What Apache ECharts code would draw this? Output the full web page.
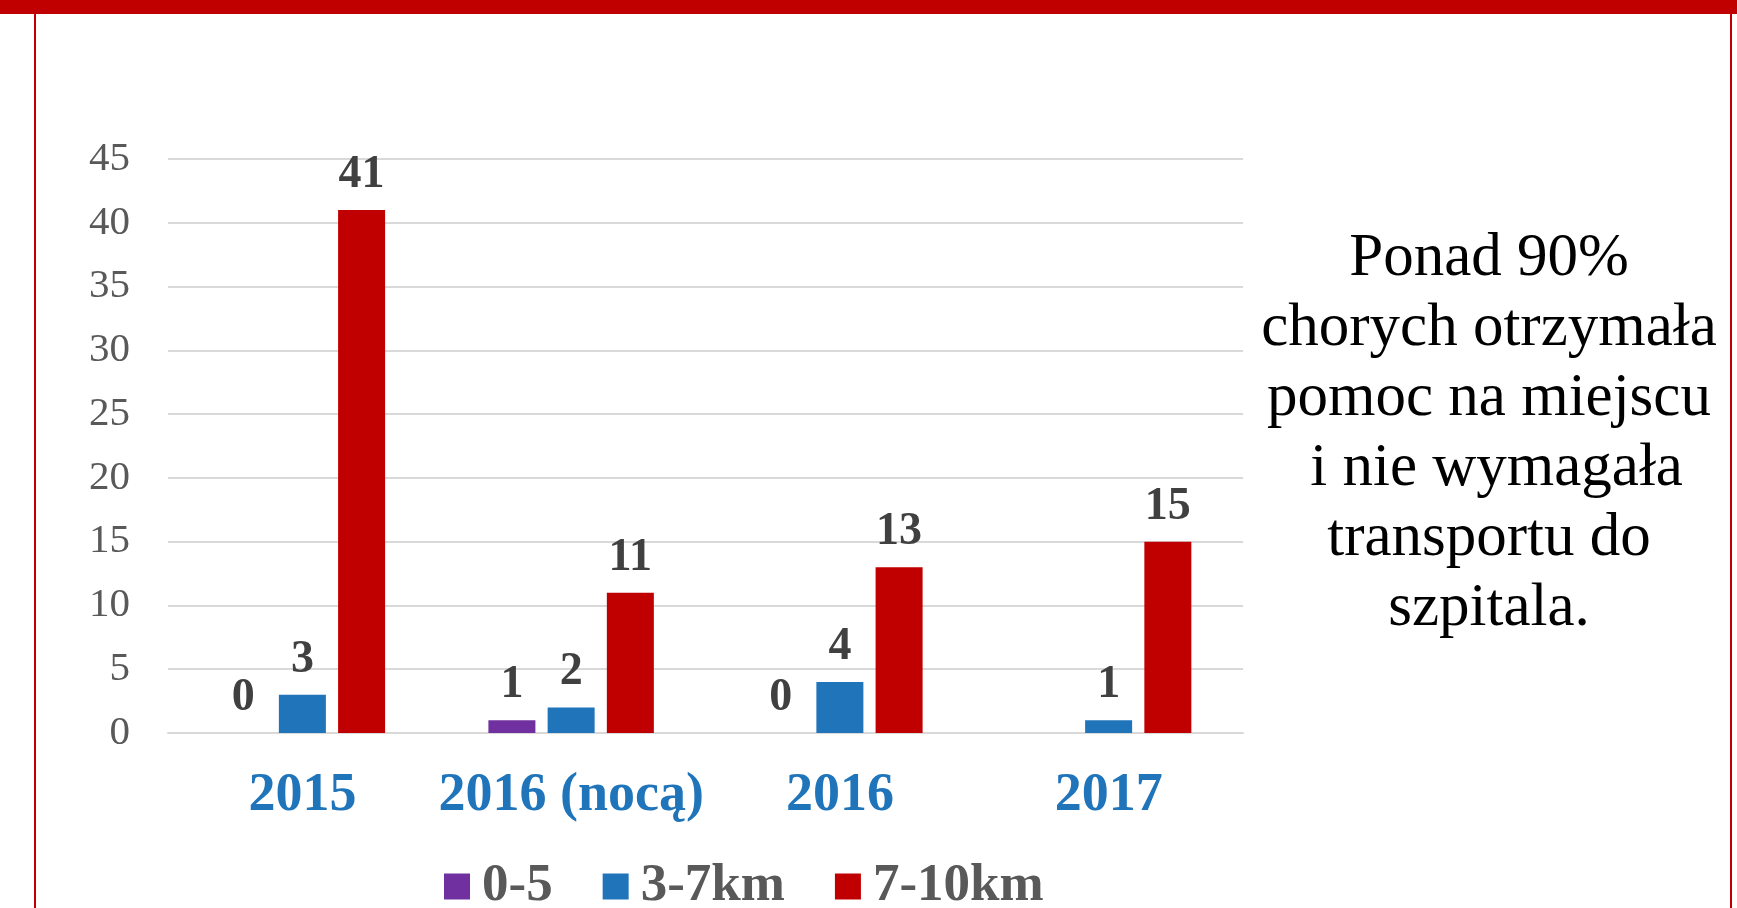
<!DOCTYPE html>
<html>
<head>
    <meta charset="utf-8">
    <title>ECharts</title>
    <script src="https://cdn.jsdelivr.net/npm/echarts@6/dist/echarts.min.js"></script>
    <style>
        html, body { margin: 0; padding: 0; background: #fff; }
    </style>
</head>
<body>
    <div id="main" style="width: 1737px;height:908px;"></div>
    <script type="text/javascript">
var years = ['2015', '2016 (nocą)', '2016', '2017'];
var seriesNames = ['0-5', '3-7km', '7-10km'];
var km0to5 = [0, 1, 0, null];
var km3to7 = [3, 2, 4, 1];
var km7to10 = [41, 11, 13, 15];
var yTicks = [0, 45, 5]; // min, max, interval
var noteLines = ['Ponad 90%', 'chorych otrzymała', 'pomoc na miejscu', ' i nie wymagała', 'transportu do', 'szpitala.'];

var colors = ['#7030A0', '#1F74BA', '#C00000'];
var serif = '"Liberation Serif", "DejaVu Serif", serif';

var myChart = echarts.init(document.getElementById('main'));

function barSeries(name, data, color) {
    return {
        name: name,
        type: 'bar',
        data: data,
        barWidth: 47,
        barGap: '26%',
        itemStyle: { color: color },
        label: {
            show: true,
            position: 'top',
            distance: 12,
            color: '#404040',
            fontFamily: serif,
            fontWeight: 'bold',
            fontSize: 46
        }
    };
}

var option = {
    backgroundColor: '#fff',
    animation: false,
    grid: { left: 168, right: 494, top: 159, bottom: 175 },
    legend: {
        data: seriesNames,
        left: 439,
        top: 855,
        icon: 'rect',
        itemWidth: 26,
        itemHeight: 26,
        itemGap: 50,
        textStyle: {
            color: '#595959',
            fontFamily: serif,
            fontWeight: 'bold',
            fontSize: 53,
            padding: [0, 0, 0, 7]
        }
    },
    xAxis: {
        type: 'category',
        data: years,
        axisTick: { show: false },
        axisLine: { lineStyle: { color: '#D9D9D9', width: 2 } },
        axisLabel: {
            interval: 0,
            margin: 36,
            color: '#1F74BA',
            fontFamily: serif,
            fontWeight: 'bold',
            fontSize: 54
        }
    },
    yAxis: {
        type: 'value',
        min: yTicks[0],
        max: yTicks[1],
        interval: yTicks[2],
        axisLine: { show: false },
        axisTick: { show: false },
        splitLine: { lineStyle: { color: '#D9D9D9', width: 2 } },
        axisLabel: {
            margin: 38,
            color: '#595959',
            fontFamily: serif,
            fontSize: 41
        }
    },
    series: [
        barSeries(seriesNames[0], km0to5, colors[0]),
        barSeries(seriesNames[1], km3to7, colors[1]),
        barSeries(seriesNames[2], km7to10, colors[2])
    ],
    graphic: [
        // ramka slajdu
        { type: 'rect', shape: { x: 0, y: 0, width: 1737, height: 14 }, style: { fill: '#C00000' } },
        { type: 'rect', shape: { x: 34, y: 0, width: 2, height: 908 }, style: { fill: '#C00000' } },
        { type: 'rect', shape: { x: 1730, y: 0, width: 2, height: 908 }, style: { fill: '#C00000' } },
        {
            type: 'text',
            style: {
                x: 1489,
                y: 224,
                text: noteLines.join('\n'),
                textAlign: 'center',
                textVerticalAlign: 'top',
                fill: '#000',
                fontFamily: serif,
                fontSize: 61,
                lineHeight: 70
            }
        }
    ]
};

myChart.setOption(option);
    </script>
</body>
</html>
